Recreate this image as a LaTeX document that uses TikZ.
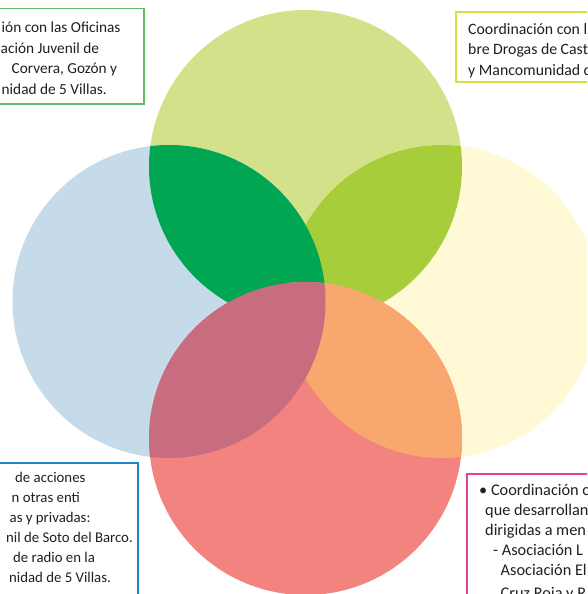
\documentclass[tikz,border=0pt]{standalone}
\usepackage{fontspec}
\setmainfont{Carlito}
\definecolor{cTop}{HTML}{D3E28A}
\definecolor{cLeft}{HTML}{C5DBE9}
\definecolor{cRight}{HTML}{FFF9D5}
\definecolor{cBottom}{HTML}{F3837E}
\definecolor{cTL}{HTML}{00A651}
\definecolor{cTR}{HTML}{A7CE3A}
\definecolor{cBR}{HTML}{F8A76E}
\definecolor{cBL}{HTML}{C86C7F}
\definecolor{bGreen}{HTML}{5DBB63}
\definecolor{bYellow}{HTML}{D7DF3A}
\definecolor{bBlue}{HTML}{1C87C9}
\definecolor{bPink}{HTML}{E2449A}
\definecolor{txtc}{HTML}{231F20}
\begin{document}
\begin{tikzpicture}[x=1pt,y=-1pt,
  txt/.style={anchor=base west,inner sep=0pt,text=txtc},
  fA/.style={font=\fontsize{15.3}{20}\selectfont},
  fB/.style={font=\fontsize{15.8}{20}\selectfont},
  fC/.style={font=\fontsize{14.8}{20}\selectfont},
  fD/.style={font=\fontsize{16.3}{20}\selectfont},
  boxline/.style={line width=1.3pt,fill=white}]
\useasboundingbox (0,0) rectangle (587,594);
\clip (0,0) rectangle (587,594);
\coordinate (T) at (305.5,166.5);
\coordinate (L) at (169,301.5);
\coordinate (R) at (442,301.5);
\coordinate (B) at (305.5,438.5);
\def\rr{156.5pt}
% circles
\fill[cTop] (T) circle[radius=\rr];
\fill[cLeft] (L) circle[radius=\rr];
\fill[cRight] (R) circle[radius=\rr];
\fill[cBottom] (B) circle[radius=\rr];
% lenses
\begin{scope}\clip (T) circle[radius=\rr]; \fill[cTR] (R) circle[radius=\rr];\end{scope}
\begin{scope}\clip (T) circle[radius=\rr]; \fill[cTL] (L) circle[radius=\rr];\end{scope}
\begin{scope}\clip (B) circle[radius=\rr]; \fill[cBR] (R) circle[radius=\rr];\end{scope}
\begin{scope}\clip (B) circle[radius=\rr]; \fill[cBL] (L) circle[radius=\rr];\end{scope}
% boxes
\draw[boxline,draw=bGreen] (-10,8.5) rectangle (144,104);
\draw[boxline,draw=bYellow] (456,12) rectangle (600,82);
\draw[boxline,draw=bBlue] (-10,463) rectangle (138,600);
\draw[boxline,draw=bPink] (467,474) rectangle (600,600);
% texts top-left
\node[txt,fA] (a1) at (1.5,33) {ión con las Oficinas};
\node[txt,fA] (a2) at (0.5,53) {ación Juvenil de};
\node[txt,fA] (a3) at (11.5,74) {Corvera, Gozón y};
\node[txt,fA] (a4) at (1.5,94) {nidad de 5 Villas.};
% top-right
\node[txt,fB] (b1) at (468,35) {Coordinación con l};
\node[txt,fB] (b2) at (468,55) {bre Drogas de Cast};
\node[txt,fB] (b3) at (468,75) {y Mancomunidad d};
% bottom-left
\node[txt,fC] (c1) at (15,482) {de acciones};
\node[txt,fC] (c2) at (11.5,502) {n otras enti};
\node[txt,fC] (c3) at (9.5,522) {as y privadas:};
\node[txt,fC] (c4) at (6,542) {nil de Soto del Barco.};
\node[txt,fC] (c5) at (13,562) {de radio en la};
\node[txt,fC] (c6) at (9,582) {nidad de 5 Villas.};
% bottom-right
\node[txt,fD] (d1) at (479,495) {• Coordinación c};
\node[txt,fD] (d2) at (485,515) {que desarrollan};
\node[txt,fD] (d3) at (485,535) {dirigidas a men};
\node[txt,fD] (d4) at (493,555) {- Asociación L};
\node[txt,fD] (d5) at (500.5,575) {Asociación El};
\node[txt,fD] (d6) at (500.5,598) {Cruz Roja y R};
\end{tikzpicture}
\end{document}
